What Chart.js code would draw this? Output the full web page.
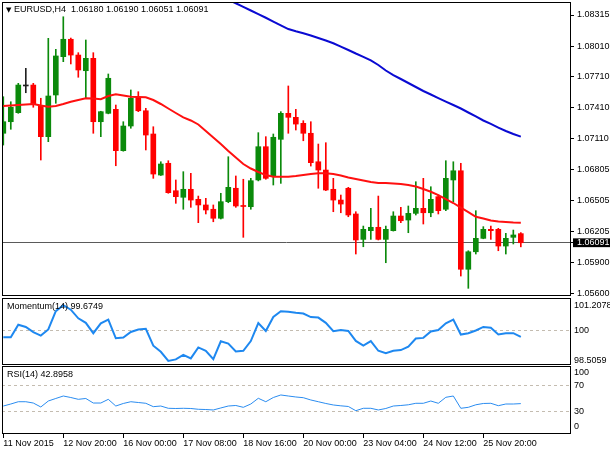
<!DOCTYPE html>
<html>
<head>
<meta charset="utf-8">
<script src="https://cdn.jsdelivr.net/npm/chart.js"></script>
<style>
html,body{margin:0;padding:0;background:#fff;}
#wrap{position:relative;width:610px;height:450px;overflow:hidden;background:#fff;}
#wrap canvas{position:absolute;left:0;}
.lbl{position:absolute;font-family:"Liberation Sans",Arial,sans-serif;font-size:9px;line-height:11px;color:#000;white-space:pre;}
.tri{font-family:"DejaVu Sans",sans-serif;font-size:7px;}
</style>
</head>
<body>
<div id="wrap">
  <canvas id="main" width="610" height="297" style="top:0;width:610px;height:297px"></canvas>
  <canvas id="mom" width="610" height="68" style="top:297px;width:610px;height:68px"></canvas>
  <canvas id="rsi" width="610" height="85" style="top:365px;width:610px;height:85px"></canvas>
  <div class="lbl" id="hdr" style="left:6px;top:4px"></div>
  <div class="lbl" id="momLbl" style="left:7px;top:301px"></div>
  <div class="lbl" id="rsiLbl" style="left:7px;top:369px"></div>
</div>
<script>
// ---------------- data ----------------
const symbol = 'EURUSD,H4';
const opens = [1.07160,1.07273,1.07361,1.07622,1.07631,1.07426,1.07127,1.07534,1.07908,1.08078,
1.07924,1.07771,1.07892,1.07273,1.07355,1.07394,1.06990,1.07231,1.07511,1.07380,
1.07153,1.06752,1.06867,1.06599,1.06535,1.06613,1.06515,1.06460,1.06418,1.06330,
1.06492,1.06623,1.06455,1.06443,1.06704,1.07029,1.06736,1.07101,1.07355,1.07316,
1.07257,1.07160,1.06882,1.06801,1.06613,1.06508,1.06623,1.06372,1.06124,1.06209,
1.06242,1.06124,1.06209,1.06352,1.06313,1.06378,1.06427,1.06384,1.06541,1.06418,
1.06704,1.06794,1.05832,1.06003,1.06134,1.06222,1.06222,1.06059,1.06144,1.06180];
const highs = [1.07517,1.07468,1.07648,1.07794,1.07648,1.07502,1.08087,1.07980,1.08298,1.08090,
1.07947,1.08071,1.07947,1.07375,1.07739,1.07436,1.07273,1.07583,1.07566,1.07404,
1.07224,1.06882,1.06892,1.06704,1.06785,1.06769,1.06547,1.06525,1.06460,1.06574,
1.06931,1.06743,1.06711,1.06720,1.07166,1.07127,1.07153,1.07371,1.07622,1.07394,
1.07283,1.07273,1.07055,1.07068,1.06720,1.06557,1.06632,1.06394,1.06254,1.06427,
1.06547,1.06254,1.06394,1.06437,1.06450,1.06687,1.06720,1.06638,1.06557,1.06892,
1.06882,1.06867,1.06013,1.06404,1.06248,1.06254,1.06232,1.06183,1.06215,1.06190];
const lows = [1.07045,1.07199,1.07355,1.07556,1.07414,1.06899,1.07078,1.07453,1.07859,1.07837,
1.07707,1.07502,1.07160,1.07127,1.07350,1.06843,1.06985,1.07209,1.07371,1.06997,
1.06720,1.06748,1.06574,1.06476,1.06418,1.06437,1.06287,1.06372,1.06296,1.06323,
1.06482,1.06437,1.06144,1.06418,1.06695,1.06711,1.06655,1.06671,1.07160,1.07192,
1.07087,1.06840,1.06623,1.06600,1.06394,1.06384,1.06345,1.05981,1.06052,1.06124,
1.06118,1.05896,1.06205,1.06287,1.06189,1.06362,1.06274,1.06345,1.06372,1.06404,
1.06492,1.05766,1.05646,1.05981,1.06130,1.06124,1.06013,1.05981,1.06079,1.06051];
const closes = [1.07273,1.07414,1.07631,1.07622,1.07446,1.07127,1.07524,1.07915,1.08078,1.07924,
1.07778,1.07892,1.07273,1.07371,1.07697,1.06990,1.07231,1.07502,1.07380,1.07143,
1.06762,1.06860,1.06580,1.06541,1.06613,1.06508,1.06460,1.06411,1.06330,1.06492,
1.06632,1.06450,1.06445,1.06697,1.07029,1.06720,1.07121,1.07355,1.07316,1.07250,
1.07160,1.06873,1.06801,1.06606,1.06508,1.06469,1.06362,1.06118,1.06222,1.06242,
1.06124,1.06222,1.06352,1.06306,1.06378,1.06427,1.06384,1.06515,1.06404,1.06720,
1.06794,1.05832,1.06003,1.06134,1.06222,1.06209,1.06059,1.06134,1.06167,1.06091];
const ma20 = [1.07426,1.07431,1.07436,1.07441,1.07446,1.07431,1.07419,1.07426,1.07446,1.07468,
1.07485,1.07502,1.07500,1.07492,1.07524,1.07541,1.07529,1.07517,1.07514,1.07511,
1.07485,1.07446,1.07402,1.07358,1.07316,1.07285,1.07246,1.07182,1.07119,1.07055,
1.06987,1.06923,1.06860,1.06816,1.06782,1.06752,1.06736,1.06736,1.06736,1.06743,
1.06752,1.06762,1.06769,1.06769,1.06762,1.06748,1.06728,1.06713,1.06699,1.06684,
1.06674,1.06674,1.06669,1.06665,1.06655,1.06640,1.06616,1.06589,1.06557,1.06518,
1.06479,1.06435,1.06391,1.06345,1.06328,1.06308,1.06298,1.06293,1.06289,1.06287];
const ma200 = [null,null,null,null,null,null,null,null,null,null,
null,null,null,null,null,null,null,null,null,null,
null,null,null,null,null,null,null,null,null,null,
1.08464,1.08430,1.08395,1.08359,1.08323,1.08288,1.08251,1.08214,1.08178,1.08156,
1.08136,1.08115,1.08090,1.08066,1.08039,1.08007,1.07973,1.07939,1.07907,1.07871,
1.07827,1.07773,1.07729,1.07690,1.07651,1.07612,1.07573,1.07539,1.07504,1.07470,
1.07436,1.07402,1.07363,1.07324,1.07285,1.07251,1.07216,1.07182,1.07153,1.07127];
const momentum = [99.651,99.651,100.260,100.152,99.897,99.735,100.029,100.913,101.2078,100.987,
100.570,100.349,99.848,100.324,100.506,99.602,99.637,99.907,100.029,100.064,
99.244,98.949,98.5059,98.581,98.802,98.630,99.160,98.998,98.591,99.455,
99.342,98.964,98.998,99.465,100.339,99.956,100.633,100.913,100.889,100.840,
100.800,100.628,100.604,100.349,99.946,100.005,99.956,99.475,99.244,99.465,
98.998,98.876,98.998,99.033,99.195,99.588,99.622,99.931,100.005,100.324,
100.506,99.784,99.848,99.980,100.152,100.113,99.784,99.848,99.848,99.6749];
const rsi = [39.2,42.3,45.8,45.8,43.8,37.7,46.9,50.8,54.6,52.3,
49.5,50.8,43.8,43.8,49.5,39.2,43.1,45.8,44.6,43.4,
38.2,39.2,35.7,35.4,35.7,35.4,34.2,33.8,33.1,36.2,
39.2,40.0,37.2,42.3,51.1,45.8,52.3,56.2,54.6,53.1,
52.0,48.5,45.8,43.1,40.8,39.5,38.5,32.0,35.7,35.7,
33.1,35.4,39.2,40.0,41.1,43.4,43.4,46.9,43.4,52.6,
54.6,35.7,37.2,41.1,43.1,43.4,39.7,42.3,42.3,42.8958];
const momName = 'Momentum(14)';
const rsiName = 'RSI(14)';
const priceTicks = [1.05600,1.05900,1.06205,1.06505,1.06805,1.07110,1.07410,1.07710,1.08010,1.08315];
const momTicks = [98.5059,100,101.2078];
const momTickLabels = ['98.5059','100','101.2078'];
const momLevels = [100];
const rsiTicks = [0,30,70,100];
const rsiTickLabels = ['0','30','70','100'];
const rsiLevels = [30,70];
const xTickBars = [0,8,16,24,32,40,48,56,64];
const xLabels = ['11 Nov 2015','12 Nov 20:00','16 Nov 00:00','17 Nov 08:00','18 Nov 16:00','20 Nov 00:00','23 Nov 04:00','24 Nov 12:00','25 Nov 20:00'];

// ---------------- styles / layout ----------------
const UP = '#0b8a0b', DOWN = '#ff0000', DOJI = '#202020';
const DASH = '#c4bcb0';
const X_MIN = -0.173, X_MAX = 75.69;
const AXIS_W = 39;
const FONT = '"Liberation Sans", Arial, sans-serif';
Chart.defaults.font.family = FONT;
Chart.defaults.font.size = 9;
Chart.defaults.color = '#000';

const n = closes.length;
const lastClose = closes[n - 1];
const f5 = v => v.toFixed(5);

document.getElementById('hdr').innerHTML = '<span class="tri">\u25BC</span> ' + symbol + '  ' +
  [opens[n-1], highs[n-1], lows[n-1], closes[n-1]].map(f5).join(' ');
document.getElementById('momLbl').textContent = momName + ' ' + momentum[n-1].toFixed(4);
document.getElementById('rsiLbl').textContent = rsiName + ' ' + rsi[n-1].toFixed(4);

const candleColors = closes.map((c, i) => c > opens[i] ? UP : (c < opens[i] ? DOWN : DOJI));

const framePlugin = {
  id: 'frame',
  afterDraw(chart) {
    const {ctx, chartArea: a} = chart;
    ctx.save();
    ctx.strokeStyle = '#000';
    ctx.lineWidth = 1;
    ctx.strokeRect(a.left + 0.5, a.top + 0.5, a.right - a.left - 1, a.bottom - a.top - 1);
    ctx.restore();
  }
};

function xAxis(show) {
  return {
    type: 'linear', min: X_MIN, max: X_MAX, offset: false, display: show,
    afterBuildTicks: a => { a.ticks = xTickBars.map(v => ({value: v})); },
    afterFit: a => { a.height = show ? 16 : 0; a.paddingLeft = 0; a.paddingRight = 0; },
    grid: {display: true, drawOnChartArea: false, drawTicks: true, tickLength: 4, color: '#000', offset: false},
    border: {display: false},
    ticks: {autoSkip: false, maxRotation: 0, minRotation: 0, align: 'start', padding: 0,
      callback: (v, i) => xLabels[i]}
  };
}
function fitY(a) { a.width = AXIS_W; a.paddingTop = 0; a.paddingBottom = 0; }
const baseOpts = {
  responsive: false, animation: false, events: [],
  plugins: {legend: {display: false}, tooltip: {enabled: false}}
};

// ---------------- main price panel ----------------
new Chart(document.getElementById('main'), {
  type: 'bar',
  data: {
    datasets: [
      {type: 'line', data: ma200.map((v, i) => ({x: i, y: v})), borderColor: '#0a0ad2', borderWidth: 2,
        pointRadius: 0, tension: 0, clip: 0, order: 1},
      {type: 'line', data: ma20.map((v, i) => ({x: i, y: v})), borderColor: '#ff1010', borderWidth: 2,
        pointRadius: 0, tension: 0, clip: 0, order: 2},
      {type: 'bar', data: opens.map((o, i) => ({x: i, y: [o, closes[i]]})), backgroundColor: candleColors,
        barThickness: 5, minBarLength: 1, grouped: false, order: 3},
      {type: 'bar', data: lows.map((l, i) => ({x: i, y: [l, highs[i]]})), backgroundColor: candleColors,
        barThickness: 1, grouped: false, order: 4}
    ]
  },
  options: Object.assign({}, baseOpts, {
    layout: {padding: {left: 2, top: 2, right: 0, bottom: 1}},
    scales: {
      x: xAxis(false),
      y: {
        type: 'linear', position: 'right', min: 1.05571, max: 1.08442, beginAtZero: false,
        afterBuildTicks: a => { a.ticks = priceTicks.concat([lastClose]).sort((p, q) => p - q).map(v => ({value: v})); },
        afterFit: fitY,
        grid: {drawTicks: true, tickLength: 3, lineWidth: 1,
          color: c => (c.tick && c.tick.value === lastClose) ? '#5a5a5a' : 'rgba(0,0,0,0)',
          tickColor: '#000'},
        border: {display: false},
        ticks: {autoSkip: false, padding: 3, callback: v => f5(v),
          color: c => (c.tick && c.tick.value === lastClose) ? '#fff' : '#000',
          showLabelBackdrop: c => !!(c.tick && c.tick.value === lastClose),
          backdropColor: '#000', backdropPadding: {top: -1, bottom: -1, left: 4, right: 4}}
      }
    }
  }),
  plugins: [framePlugin]
});

// ---------------- momentum panel ----------------
new Chart(document.getElementById('mom'), {
  type: 'line',
  data: {datasets: [{data: momentum.map((v, i) => ({x: i, y: v})), borderColor: '#1e88f0', borderWidth: 2,
    pointRadius: 0, tension: 0}]},
  options: Object.assign({}, baseOpts, {
    layout: {padding: {left: 2, top: 1, right: 0, bottom: 0}},
    scales: {
      x: xAxis(false),
      y: {
        type: 'linear', position: 'right', min: 98.309, max: 101.552,
        afterBuildTicks: a => { a.ticks = momTicks.map(v => ({value: v})); },
        afterFit: fitY,
        grid: {drawTicks: false, lineWidth: 1,
          color: c => momLevels.includes(momTicks[c.index]) ? DASH : 'rgba(0,0,0,0)'},
        border: {display: false, dash: [3, 3]},
        ticks: {autoSkip: false, padding: 3, callback: (v, i) => momTickLabels[i]}
      }
    }
  }),
  plugins: [framePlugin]
});

// ---------------- RSI panel ----------------
const RSI_EDGE_TOP = 8.5, RSI_EDGE_BOT = 6.9; // edge labels drawn inside the panel
new Chart(document.getElementById('rsi'), {
  type: 'line',
  data: {datasets: [{data: rsi.map((v, i) => ({x: i, y: v})), borderColor: '#2a8cf0', borderWidth: 1,
    pointRadius: 0, tension: 0}]},
  options: Object.assign({}, baseOpts, {
    layout: {padding: {left: 2, top: 1, right: 0, bottom: 0}},
    scales: {
      x: xAxis(true),
      y: {
        type: 'linear', position: 'right', min: -3.85, max: 100.77,
        afterBuildTicks: a => {
          const lo = Math.min(...rsiTicks), hi = Math.max(...rsiTicks);
          a.ticks = rsiTicks.map(v => ({value: v === hi ? v - RSI_EDGE_TOP : (v === lo ? v + RSI_EDGE_BOT : v)}));
        },
        afterFit: fitY,
        grid: {drawTicks: false, lineWidth: 1,
          color: c => rsiLevels.includes(rsiTicks[c.index]) ? DASH : 'rgba(0,0,0,0)'},
        border: {display: false, dash: [3, 3]},
        ticks: {autoSkip: false, padding: 3, callback: (v, i) => rsiTickLabels[i]}
      }
    }
  }),
  plugins: [framePlugin]
});
</script>
</body>
</html>
